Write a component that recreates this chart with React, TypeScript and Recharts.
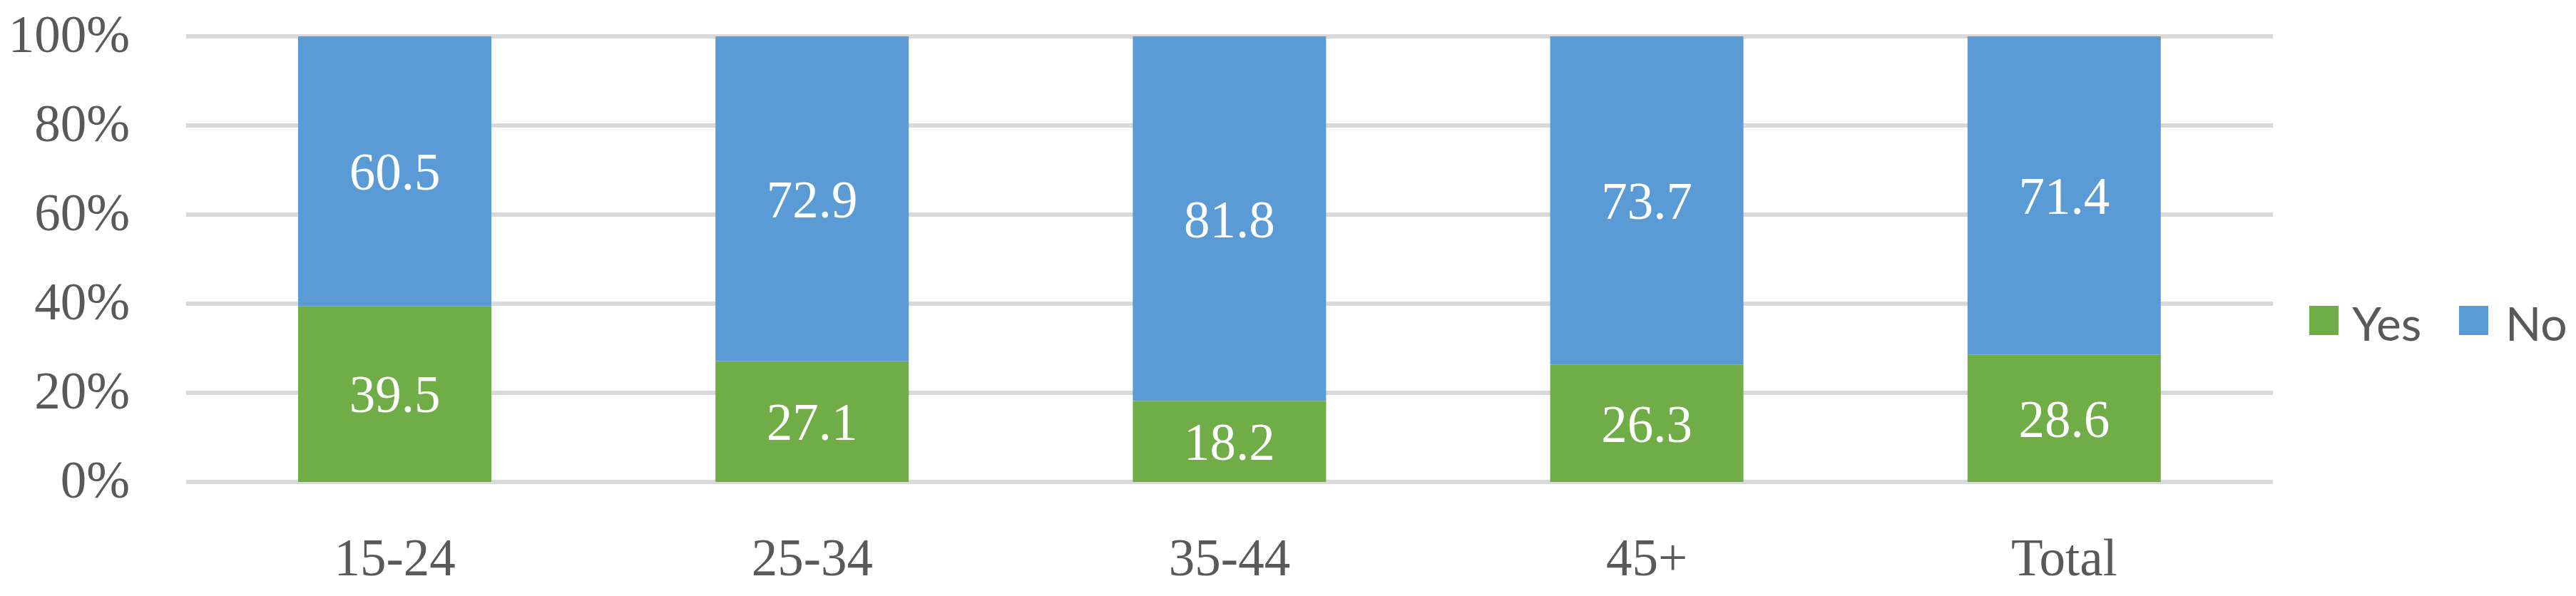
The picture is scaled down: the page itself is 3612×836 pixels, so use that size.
import React from 'react';
import { BarChart, Bar, XAxis, YAxis, CartesianGrid, LabelList } from 'recharts';

const categories = ['15-24', '25-34', '35-44', '45+', 'Total'];
const yesValues = [39.5, 27.1, 18.2, 26.3, 28.6];
const noValues = [60.5, 72.9, 81.8, 73.7, 71.4];
const yTicks = [0, 20, 40, 60, 80, 100];
const seriesNames = ['Yes', 'No'];

const data = categories.map((c, i) => ({ name: c, Yes: yesValues[i], No: noValues[i] }));

const GREEN = '#70AD47';
const BLUE = '#5B9BD5';
const TEXT = '#595959';
const SERIF = '"Liberation Serif", "Times New Roman", serif';
const SANS = 'Lato, "Open Sans", sans-serif';

const YTick = (props: any) => {
  const { x, y, payload } = props;
  return (
    <text x={x} y={y} dy={22} textAnchor="end" fill={TEXT} fontFamily={SERIF} fontSize={73}>
      {payload.value}%
    </text>
  );
};

const XTick = (props: any) => {
  const { x, y, payload } = props;
  return (
    <text x={x} y={y} dy={52} textAnchor="middle" fill={TEXT} fontFamily={SERIF} fontSize={73}>
      {payload.value}
    </text>
  );
};

const LegendBox = () => (
  <svg
    width={400}
    height={90}
    style={{ position: 'absolute', left: 3238, top: 429, overflow: 'visible' }}
  >
    <rect x={0} y={0} width={41} height={41} fill={GREEN} />
    <text x={60} y={49} fill={TEXT} fontFamily={SANS} fontSize={66}>{seriesNames[0]}</text>
    <rect x={210} y={0} width={41} height={41} fill={BLUE} />
    <text x={275} y={49} fill={TEXT} fontFamily={SANS} fontSize={66}>{seriesNames[1]}</text>
  </svg>
);

export default function App() {
  return (
    <div style={{ position: 'absolute', left: 0, top: 0, width: 3612, height: 836, background: '#fff' }}>
      <BarChart
        width={3612}
        height={836}
        data={data}
        margin={{ top: 51, right: 425, bottom: 0, left: 0 }}
      >
        <CartesianGrid vertical={false} stroke="#D9D9D9" strokeWidth={6} />
        <XAxis
          dataKey="name"
          axisLine={false}
          tickLine={false}
          tickSize={0}
          tickMargin={79}
          height={160}
          tick={<XTick />}
          interval={0}
        />
        <YAxis
          domain={[0, 100]}
          ticks={yTicks}
          axisLine={false}
          tickLine={false}
          tickSize={0}
          tickMargin={79}
          width={261}
          tick={<YTick />}
          interval={0}
        />
        <Bar dataKey="Yes" stackId="a" fill={GREEN} barSize={271} isAnimationActive={false}>
          <LabelList dataKey="Yes" position="center" fill="#FFFFFF" fontFamily={SERIF} fontSize={73} />
        </Bar>
        <Bar dataKey="No" stackId="a" fill={BLUE} barSize={271} isAnimationActive={false}>
          <LabelList dataKey="No" position="center" fill="#FFFFFF" fontFamily={SERIF} fontSize={73} />
        </Bar>
      </BarChart>
      <LegendBox />
    </div>
  );
}
